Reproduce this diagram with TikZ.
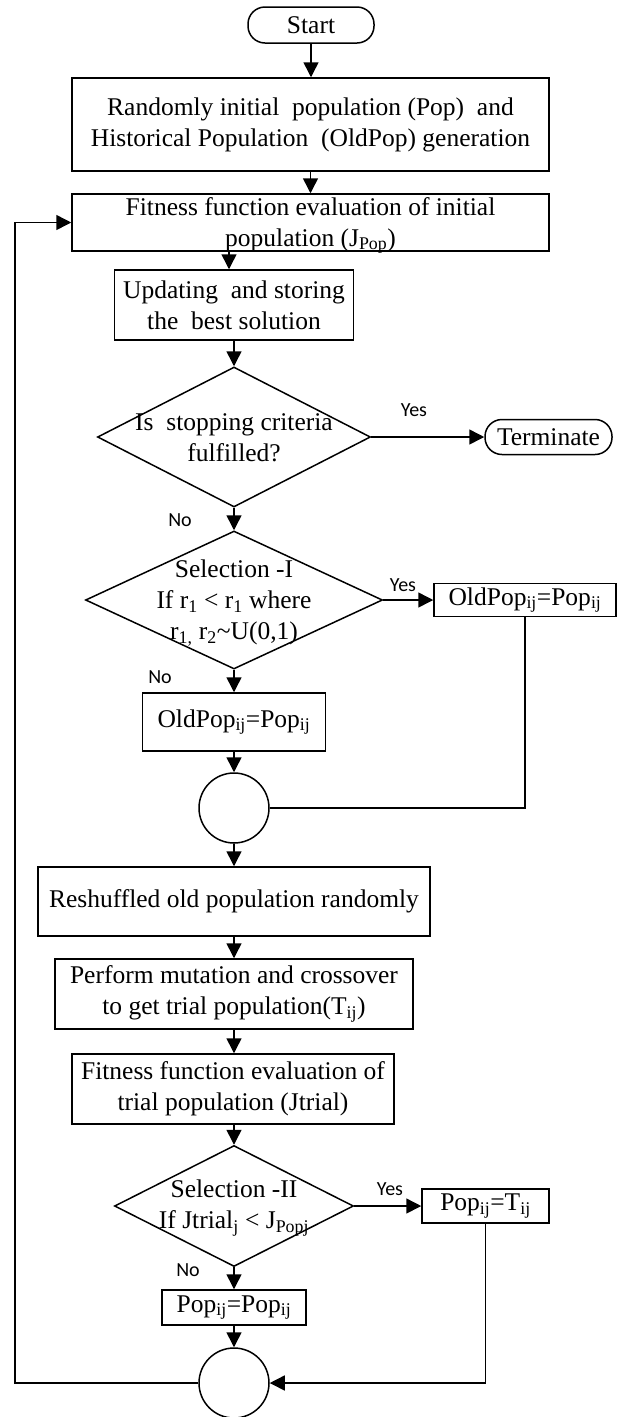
\documentclass[tikz,border=0pt]{standalone}
\usepackage{fontspec}
\setmainfont{Liberation Serif}
\newfontfamily\lblfont{Carlito}
\usetikzlibrary{shapes.geometric,arrows.meta,calc}
\begin{document}
\begin{tikzpicture}[x=1pt,y=-1pt,
  line width=1.5pt,
  every node/.style={font=\fontsize{25.5pt}{31pt}\selectfont, inner sep=0pt, align=center},
  procbox/.style={draw, rectangle},
  termbox/.style={draw, rectangle, rounded corners=17pt},
  decbox/.style={draw, diamond},
  joinc/.style={draw, circle, minimum size=70pt},
  yn/.style={font=\lblfont\fontsize{20pt}{22pt}\selectfont},
  arr/.style={-{Triangle[length=15pt,width=15pt]}}]
\useasboundingbox (0,0) rectangle (618,1417);

\node[termbox, minimum width=126pt, minimum height=36pt] (start) at (311,25) {Start};
\node[procbox, minimum width=477pt, minimum height=93pt] (box1) at (310.5,124.5)
  {Randomly initial\ \ population (Pop)\ \ and\\Historical Population\ \ (OldPop) generation};
\node[procbox, minimum width=477pt, minimum height=57pt,
  label={[yshift=-3pt]center:{Fitness function evaluation of initial\\population (J\textsubscript{Pop})}}] (box2) at (310.5,222.5) {};
\node[procbox, minimum width=239pt, minimum height=70pt] (box3) at (234,305)
  {Updating\ \ and storing\\the\ \ best solution};
\node[decbox, minimum width=273pt, minimum height=140pt,
  label={[yshift=-1pt]center:{Is\ \ stopping criteria\\fulfilled?}}] (dia1) at (234,437) {};
\node[termbox, minimum width=127pt, minimum height=35pt] (term) at (548.5,437) {Terminate};
\node[decbox, minimum width=297pt, minimum height=138pt,
  label={[yshift=-3pt]center:{Selection -I\\If r\textsubscript{1} < r\textsubscript{1} where\\r\textsubscript{1,} r\textsubscript{2}\textasciitilde U(0,1)}}] (dia2) at (234,600) {};
\node[procbox, minimum width=182pt, minimum height=33pt] (oldR) at (525,600)
  {OldPop\textsubscript{ij}=Pop\textsubscript{ij}};
\node[procbox, minimum width=183pt, minimum height=58pt] (oldL) at (234,722)
  {OldPop\textsubscript{ij}=Pop\textsubscript{ij}};
\node[joinc] (c1) at (234,808) {};
\node[procbox, minimum width=392pt, minimum height=69pt] (resh) at (234,901.5)
  {Reshuffled old population randomly};
\node[procbox, minimum width=358pt, minimum height=70pt] (perf) at (234,994)
  {Perform mutation and crossover\\to get trial population(T\textsubscript{ij})};
\node[procbox, minimum width=322pt, minimum height=70pt] (fit2) at (233,1089)
  {Fitness function evaluation of\\trial population (Jtrial)};
\node[decbox, minimum width=239pt, minimum height=121pt,
  label={[yshift=-2pt]center:{Selection -II\\If Jtrial\textsubscript{j} < J\textsubscript{Popj}}}] (dia3) at (234,1206) {};
\node[procbox, minimum width=127pt, minimum height=34pt] (popT) at (485.5,1206)
  {Pop\textsubscript{ij}=T\textsubscript{ij}};
\node[procbox, minimum width=144pt, minimum height=35pt] (popP) at (234,1307.5)
  {Pop\textsubscript{ij}=Pop\textsubscript{ij}};
\node[joinc] (c2) at (234,1383) {};

\node[yn] (yes1) at (414,410) {Yes};
\node[yn] (no1) at (180,520) {No};
\node[yn] (yes2) at (403,585) {Yes};
\node[yn] (no2) at (160,677) {No};
\node[yn] (yes3) at (390,1189) {Yes};
\node[yn] (no3) at (188,1270) {No};

\coordinate (lp) at (15,222.5);

\draw[arr] (start.south) -- (start.south |- box1.north);
\draw[arr] (box1.south) -- (box2.north);
\draw[arr] ([xshift=-5pt]box3.north |- box2.south) -- ([xshift=-5pt]box3.north);
\draw[arr] (box3.south) -- (dia1.north);
\draw[arr] (dia1.east) -- (term.west);
\draw[arr] (dia1.south) -- (dia2.north);
\draw[arr] (dia2.east) -- (oldR.west);
\draw[arr] (dia2.south) -- (oldL.north);
\draw[arr] (oldL.south) -- (c1.north);
\draw (oldR.south) |- (c1.east);
\draw[arr] (c1.south) -- (resh.north);
\draw[arr] (resh.south) -- (perf.north);
\draw[arr] (perf.south) -- (perf.south |- fit2.north);
\draw[arr] (fit2.south -| dia3.north) -- (dia3.north);
\draw[arr] (dia3.east) -- (popT.west);
\draw[arr] (dia3.south) -- (popP.north);
\draw[arr] (popP.south) -- (c2.north);
\draw[arr] (popT.south) |- (c2.east);
\draw[arr] (c2.west) -| (lp) -- (box2.west);
\end{tikzpicture}
\end{document}
